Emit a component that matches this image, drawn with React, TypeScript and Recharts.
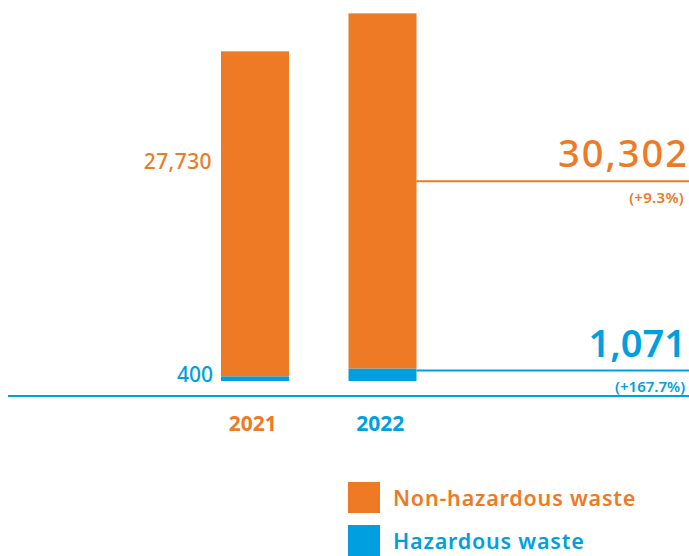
import { BarChart, Bar, XAxis, YAxis } from 'recharts';

const ORANGE = '#EE7A25';
const BLUE = '#009FE0';
const CHART_W = 689;
const CHART_H = 556;
const FONT = '"Noto Sans", sans-serif';

// waste generated, tonnes
const years = ['2021', '2022'];
const hazardous = [400, 1071];
const nonHazardous = [27730, 30302];
const hazardousChange = ['', '(+167.7%)'];
const nonHazardousChange = ['', '(+9.3%)'];
const yearColors = [ORANGE, BLUE];
const seriesNames = ['Non-hazardous waste', 'Hazardous waste'];
const seriesColors = [ORANGE, BLUE];

const data = years.map((year, i) => ({
  year,
  hazardous: hazardous[i],
  nonHazardous: nonHazardous[i],
}));

const fmt = (v: number) => v.toLocaleString('en-US');

function NonHazardousShape(props: any) {
  const { x, y, width, height, fill, index, payload } = props;
  const last = index === years.length - 1;
  const lineY = y + height * 0.473;
  return (
    <g>
      <rect x={x} y={y} width={width} height={height} fill={fill} />
      {index === 0 && (
        <text x={x - 9} y={y + height * 0.362} textAnchor="end" fill={ORANGE} fontSize={21} fontWeight={500} letterSpacing={0.4}>
          {fmt(payload.nonHazardous)}
        </text>
      )}
      {last && (
        <g>
          <line x1={x + width} x2={CHART_W} y1={lineY} y2={lineY} stroke={ORANGE} strokeWidth={2} />
          <text x={CHART_W} y={lineY - 14} textAnchor="end" fill={ORANGE} fontSize={38} fontWeight={500} letterSpacing={2}>
            {fmt(payload.nonHazardous)}
          </text>
          <text x={CHART_W - 5} y={lineY + 22} textAnchor="end" fill={ORANGE} fontSize={15} fontWeight={600} letterSpacing={0.3}>
            {nonHazardousChange[index]}
          </text>
        </g>
      )}
    </g>
  );
}

function HazardousShape(props: any) {
  const { x, y, width, height, fill, index, payload } = props;
  const last = index === years.length - 1;
  const lineY = y + 2;
  return (
    <g>
      <rect x={x} y={y} width={width} height={height} fill={fill} />
      {index === 0 && (
        <text x={x - 8} y={y + height + 1} textAnchor="end" fill={BLUE} fontSize={21} fontWeight={500}>
          {fmt(payload.hazardous)}
        </text>
      )}
      {last && (
        <g>
          <line x1={x + width} x2={CHART_W} y1={lineY} y2={lineY} stroke={BLUE} strokeWidth={2} />
          <text x={CHART_W - 3} y={lineY - 13} textAnchor="end" fill={BLUE} fontSize={38} fontWeight={600}>
            {fmt(payload.hazardous)}
          </text>
          <text x={CHART_W - 4} y={lineY + 22} textAnchor="end" fill={BLUE} fontSize={15} fontWeight={600}>
            {hazardousChange[index]}
          </text>
        </g>
      )}
    </g>
  );
}

function YearTick(props: any) {
  const { x, y, payload, index } = props;
  return (
    <text x={x - 2} y={y + 33} textAnchor="middle" fill={yearColors[index]} fontSize={21} fontWeight={700}>
      {payload.value}
    </text>
  );
}

export default function App() {
  return (
    <div style={{ position: 'absolute', left: 0, top: 0, width: CHART_W, height: CHART_H, background: '#fff', fontFamily: FONT, overflow: 'hidden' }}>
      <BarChart
        width={CHART_W}
        height={CHART_H}
        data={data}
        margin={{ top: 6, right: 0, left: 8, bottom: 120 }}
        style={{ fontFamily: FONT }}
      >
        <XAxis
          dataKey="year"
          height={40}
          padding={{ left: 183, right: 243 }}
          axisLine={{ stroke: BLUE, strokeWidth: 2 }}
          tickLine={false}
          tickSize={0}
          tick={<YearTick />}
        />
        <YAxis hide type="number" domain={[-1280, 32000]} />
        <Bar dataKey="hazardous" stackId="w" fill={BLUE} barSize={68} isAnimationActive={false} shape={<HazardousShape />} />
        <Bar dataKey="nonHazardous" stackId="w" fill={ORANGE} barSize={68} isAnimationActive={false} shape={<NonHazardousShape />} />
      </BarChart>
      {seriesNames.map((name, i) => (
        <div
          key={name}
          style={{ position: 'absolute', left: 348, top: 482 + i * 43, display: 'flex', alignItems: 'center', height: 31 }}
        >
          <div style={{ width: 32, height: 31, background: seriesColors[i] }} />
          <span style={{ marginLeft: 13, fontSize: 21.5, lineHeight: 1, fontWeight: 600, letterSpacing: 0.8, color: seriesColors[i] }}>{name}</span>
        </div>
      ))}
    </div>
  );
}
